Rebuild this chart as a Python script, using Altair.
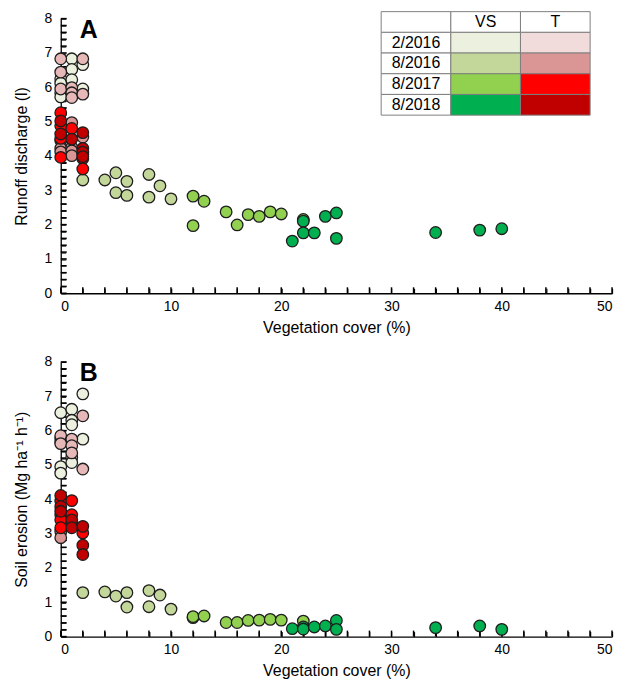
import altair as alt
import pandas as pd

FONT = "Liberation Sans"
W, H = 554, 276

series = ["2/2016 VS", "2/2016 T", "8/2016 VS", "8/2016 T",
          "8/2017 VS", "8/2017 T", "8/2018 VS", "8/2018 T"]
point_colors = ["#EBF1DE", "#E6B8B7", "#C4D79B", "#DA9694",
                "#92D050", "#FF0000", "#00B050", "#C00000"]

# ---------------- Panel A: runoff discharge ----------------
a_vs0216_x = [0, 0, 0, 0, 1, 1, 1, 2, 2]
a_vs0216_y = [6.25, 6.12, 5.84, 5.72, 6.83, 6.52, 6.22, 6.66, 5.95]
a_t0216_x = [0, 0, 0, 1, 1, 1, 2, 2]
a_t0216_y = [6.83, 6.44, 5.95, 5.99, 5.84, 5.70, 6.83, 5.80]
a_vs0816_x = [2, 4, 5, 5, 6, 6, 8, 8, 9, 10]
a_vs0816_y = [3.30, 3.30, 3.51, 2.93, 3.26, 2.85, 3.46, 2.80, 3.13, 2.75]
a_t0816_x = [0, 0, 0, 1, 1, 1, 1, 2, 2]
a_t0816_y = [4.45, 4.22, 4.12, 4.97, 4.25, 4.15, 4.01, 4.55, 4.05]
a_vs0817_x = [12, 13, 12, 15, 16, 17, 18, 19, 20, 22]
a_vs0817_y = [2.83, 2.68, 1.97, 2.37, 1.99, 2.29, 2.24, 2.37, 2.31, 2.15]
a_t0817_x = [0, 0, 0, 0, 1, 2, 2]
a_t0817_y = [5.26, 4.88, 4.51, 3.96, 4.80, 3.92, 3.62]
a_vs0818_x = [21, 22, 22, 23, 24, 25, 25, 34, 38, 40]
a_vs0818_y = [1.52, 2.10, 1.76, 1.76, 2.24, 2.34, 1.60, 1.77, 1.84, 1.88]
a_t0818_x = [0, 0, 1, 2, 2, 2, 2]
a_t0818_y = [5.02, 4.64, 4.49, 4.68, 4.22, 4.11, 3.98]

# ---------------- Panel B: soil erosion ----------------
b_vs0216_x = [0, 0, 0, 0, 0, 1, 1, 1, 1, 1, 2, 2]
b_vs0216_y = [6.52, 5.77, 5.67, 4.95, 4.76, 6.62, 6.30, 6.17, 5.22, 5.07, 7.07, 5.75]
b_t0216_x = [0, 0, 1, 1, 1, 2, 2]
b_t0216_y = [5.85, 5.62, 5.75, 5.56, 5.35, 6.43, 4.88]
b_vs0816_x = [2, 4, 5, 6, 6, 8, 8, 9, 10]
b_vs0816_y = [1.28, 1.30, 1.18, 1.28, 0.86, 1.34, 0.87, 1.21, 0.80]
b_t0816_x = [0, 0, 1]
b_t0816_y = [3.07, 2.88, 3.35]
b_vs0817_x = [12, 12, 13, 15, 16, 17, 18, 19, 20, 22]
b_vs0817_y = [0.55, 0.58, 0.60, 0.41, 0.41, 0.47, 0.48, 0.50, 0.48, 0.45]
b_t0817_x = [0, 0, 0, 0, 1, 1, 2]
b_t0817_y = [3.95, 3.55, 3.40, 3.17, 3.96, 3.55, 3.02]
b_vs0818_x = [21, 22, 22, 23, 24, 25, 25, 34, 38, 40]
b_vs0818_y = [0.23, 0.28, 0.22, 0.28, 0.31, 0.47, 0.21, 0.26, 0.31, 0.21]
b_t0818_x = [0, 0, 0, 1, 1, 2, 2, 2]
b_t0818_y = [4.11, 3.79, 3.65, 3.40, 3.17, 3.21, 2.66, 2.39]

# axis tick positions (labels only at every 10 on x, every 1 on y)
x_ticks = list(range(0, 51, 2))
y_ticks = [round(i * 0.2, 1) for i in range(0, 41)]

# legend table
legend_rows = ["hdr", "2/2016", "8/2016", "8/2017", "8/2018"]
legend_cols = ["lab", "VS", "T"]
legend_vs = ["#EBF1DE", "#C4D79B", "#92D050", "#00B050"]
legend_t = ["#F2DCDB", "#DA9694", "#FF0000", "#C00000"]


def build(pairs):
    frames = []
    for name, (xs, ys) in zip(series, pairs):
        frames.append(pd.DataFrame({"x": xs, "y": ys, "series": name}))
    return pd.concat(frames, ignore_index=True)


def legend_layers():
    cells, texts = [], []
    for r, row in enumerate(legend_rows):
        for c, col in enumerate(legend_cols):
            if r == 0 or c == 0:
                fill = "#FFFFFF"
            else:
                fill = legend_vs[r - 1] if col == "VS" else legend_t[r - 1]
            cells.append({"row": row, "col": col, "fill": fill})
            if r == 0 and c > 0:
                texts.append({"row": row, "col": col, "txt": col})
            elif c == 0 and r > 0:
                texts.append({"row": row, "col": col, "txt": row})
    xsc = alt.Scale(domain=legend_cols, range=[322, 532], paddingInner=0, paddingOuter=0)
    ysc = alt.Scale(domain=legend_rows, range=[-7, 97], paddingInner=0, paddingOuter=0)
    rect = alt.Chart(pd.DataFrame(cells)).mark_rect(stroke="#7F7F7F", strokeWidth=1).encode(
        x=alt.X("col:N", scale=xsc, axis=None, sort=legend_cols),
        y=alt.Y("row:N", scale=ysc, axis=None, sort=legend_rows),
        fill=alt.Fill("fill:N", scale=None),
    )
    txt = alt.Chart(pd.DataFrame(texts)).mark_text(
        font=FONT, fontSize=16, color="#000", baseline="middle", align="center"
    ).encode(
        x=alt.X("col:N", scale=xsc, axis=None, sort=legend_cols),
        y=alt.Y("row:N", scale=ysc, axis=None, sort=legend_rows),
        text="txt:N",
    )
    return [rect, txt]


def panel(pairs, ytitle, letter, with_legend):
    df = build(pairs)
    xs = alt.Scale(domain=[0, 50], nice=False, zero=True)
    ys = alt.Scale(domain=[0, 8], nice=False, zero=True)
    xt = alt.Chart(pd.DataFrame({"v": x_ticks})).mark_tick(
        orient="vertical", size=6, thickness=1.5, color="#000", opacity=1
    ).encode(x=alt.X("v:Q", scale=xs, axis=None), y=alt.value(H - 3))
    yt = alt.Chart(pd.DataFrame({"v": y_ticks})).mark_tick(
        orient="horizontal", size=6, thickness=1.5, color="#000", opacity=1
    ).encode(y=alt.Y("v:Q", scale=ys, axis=None), x=alt.value(3))
    pts = alt.Chart(df).mark_circle(size=135, opacity=1, stroke="#1E1E1E", strokeWidth=1.3).encode(
        x=alt.X("x:Q", scale=xs, axis=alt.Axis(
            orient="bottom", values=x_ticks,
            labelExpr="datum.value % 10 == 0 ? datum.label : ''",
            labelOverlap=False,
            tickSize=alt.ExprRef(expr="-5"), tickColor="#000", tickWidth=1.2,
            domainColor="#000", domainWidth=1.3, labelPadding=11, labelFontSize=14,
            title="Vegetation cover (%)", titleFontSize=16, titleFontWeight="normal",
            titlePadding=6, grid=False)),
        y=alt.Y("y:Q", scale=ys, axis=alt.Axis(
            orient="left", values=y_ticks,
            labelExpr="abs(datum.value - round(datum.value)) < 0.001 ? format(datum.value, 'd') : ''",
            labelOverlap=False,
            tickSize=alt.ExprRef(expr="-5"), tickColor="#000", tickWidth=1.2,
            domainColor="#000", domainWidth=1.3, labelPadding=14, labelFontSize=14,
            title=ytitle, titleFontSize=16, titleFontWeight="normal",
            titlePadding=15, grid=False)),
        fill=alt.Fill("series:N", scale=alt.Scale(domain=series, range=point_colors), legend=None),
    )
    lab = alt.Chart(pd.DataFrame({"t": [letter]})).mark_text(
        font=FONT, fontSize=25, fontWeight="bold", color="#000",
        align="center", baseline="alphabetic"
    ).encode(text="t:N", x=alt.value(28), y=alt.value(19))
    layers = [xt, yt, pts, lab]
    if with_legend:
        layers += legend_layers()
    return alt.layer(*layers).resolve_scale(
        x="independent", y="independent", fill="independent"
    ).properties(width=W, height=H)


pairs_a = [(a_vs0216_x, a_vs0216_y), (a_t0216_x, a_t0216_y),
           (a_vs0816_x, a_vs0816_y), (a_t0816_x, a_t0816_y),
           (a_vs0817_x, a_vs0817_y), (a_t0817_x, a_t0817_y),
           (a_vs0818_x, a_vs0818_y), (a_t0818_x, a_t0818_y)]
pairs_b = [(b_vs0216_x, b_vs0216_y), (b_t0216_x, b_t0216_y),
           (b_vs0816_x, b_vs0816_y), (b_t0816_x, b_t0816_y),
           (b_vs0817_x, b_vs0817_y), (b_t0817_x, b_t0817_y),
           (b_vs0818_x, b_vs0818_y), (b_t0818_x, b_t0818_y)]

pa = panel(pairs_a, "Runoff discharge (l)", "A", True)
pb = panel(pairs_b, "Soil erosion (Mg ha\u207b\u00b9 h\u207b\u00b9)", "B", False)

chart = alt.vconcat(pa, pb, spacing=20).properties(
    padding={"left": 5, "top": 1, "right": 5, "bottom": 5}
).configure_axis(
    labelFont=FONT, titleFont=FONT, labelColor="#000", titleColor="#000"
).configure_view(strokeWidth=0)

chart.save("out.html", embed_options={"renderer": "svg", "actions": False})
